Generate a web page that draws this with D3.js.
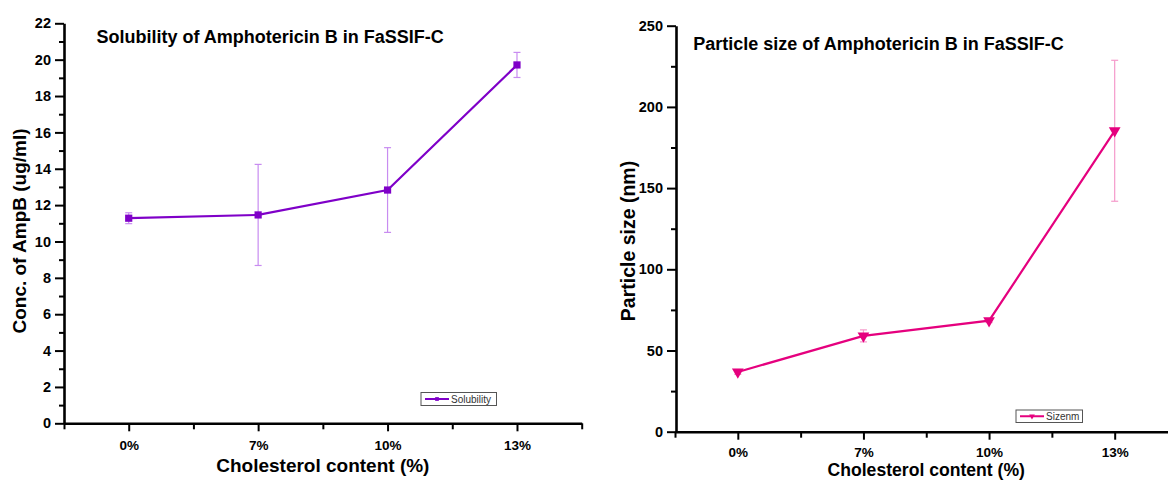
<!DOCTYPE html>
<html>
<head>
<meta charset="utf-8">
<script src="https://cdn.jsdelivr.net/npm/d3@7"></script>
<style>
  html, body { margin: 0; padding: 0; background: #ffffff; }
  svg { display: block; }
  text { font-family: "Liberation Sans", Arial, sans-serif; }
</style>
</head>
<body>
<svg id="chart" width="1168" height="480"></svg>
<script>
// ---------- data ----------
const categories = ["0%", "7%", "10%", "13%"];

const solubility    = [11.28, 11.46, 12.83, 19.71];
const solubilityErr = [0.30, 2.78, 2.33, 0.69];

const particleSize    = [36.8, 59.0, 68.4, 185.3];
const particleSizeErr = [1.5, 3.7, 1.2, 43.4];

const solubilityMajorTicks = [0, 2, 4, 6, 8, 10, 12, 14, 16, 18, 20, 22];
const solubilityMinorTicks = [1, 3, 5, 7, 9, 11, 13, 15, 17, 19, 21];
const sizeMajorTicks = [0, 50, 100, 150, 200, 250];
const sizeMinorTicks = [25, 75, 125, 175, 225];

// ---------- drawing ----------
const svg = d3.select("#chart");
const FONT = '"Liberation Sans", Arial, sans-serif';

function panel(cfg) {
  const g = svg.append("g");
  const idx = categories.map((d, i) => i + 1);
  const x = d3.scaleLinear().domain([0.5, 4.5]).range(cfg.xRange);
  const y = d3.scaleLinear().domain(cfg.yDomain).range(cfg.yRange);

  // minor y ticks
  g.append("g")
    .attr("transform", `translate(${cfg.axisX},0)`)
    .call(d3.axisLeft(y).tickValues(cfg.minorY).tickSize(5).tickFormat(""))
    .call(a => a.select(".domain").remove())
    .call(a => a.selectAll("line").attr("stroke", "#000").attr("stroke-width", 2));

  // major y axis
  g.append("g")
    .attr("transform", `translate(${cfg.axisX},0)`)
    .call(d3.axisLeft(y).tickValues(cfg.majorY).tickSize(9).tickPadding(4).tickSizeOuter(0))
    .call(a => a.select(".domain").attr("stroke", "#000").attr("stroke-width", 2.6))
    .call(a => a.selectAll("line").attr("stroke", "#000").attr("stroke-width", 2))
    .call(a => a.selectAll("text")
      .attr("font-family", FONT).attr("font-weight", "bold")
      .attr("font-size", 14.5).attr("fill", "#000"));

  // minor x ticks
  g.append("g")
    .attr("transform", `translate(0,${cfg.axisY})`)
    .call(d3.axisBottom(x).tickValues([0.5, 1.5, 2.5, 3.5, 4.5]).tickSize(6).tickFormat(""))
    .call(a => a.select(".domain").remove())
    .call(a => a.selectAll("line").attr("stroke", "#000").attr("stroke-width", 2));

  // major x axis
  g.append("g")
    .attr("transform", `translate(0,${cfg.axisY})`)
    .call(d3.axisBottom(x).tickValues(idx).tickSize(8).tickPadding(cfg.xLabelPad)
      .tickSizeOuter(0).tickFormat(d => categories[d - 1]))
    .call(a => a.select(".domain").attr("stroke", "#000").attr("stroke-width", 2.6))
    .call(a => a.selectAll("line").attr("stroke", "#000").attr("stroke-width", 2))
    .call(a => a.selectAll("text")
      .attr("font-family", FONT).attr("font-weight", "bold")
      .attr("font-size", 13.5).attr("fill", "#000"));

  // error bars
  const eb = g.append("g").attr("stroke", cfg.errColor).attr("stroke-width", 1.2);
  cfg.values.forEach((v, i) => {
    const cx = x(idx[i]);
    const yt = y(v + cfg.errs[i]), yb = y(v - cfg.errs[i]);
    eb.append("line").attr("x1", cx).attr("x2", cx).attr("y1", yt).attr("y2", yb);
    eb.append("line").attr("x1", cx - 3.5).attr("x2", cx + 3.5).attr("y1", yt).attr("y2", yt);
    eb.append("line").attr("x1", cx - 3.5).attr("x2", cx + 3.5).attr("y1", yb).attr("y2", yb);
  });

  // line
  const line = d3.line().x((d, i) => x(idx[i])).y(d => y(d));
  g.append("path").datum(cfg.values)
    .attr("d", line).attr("fill", "none")
    .attr("stroke", cfg.color).attr("stroke-width", 2.2);

  // markers
  const sym = d3.symbol().type(cfg.symbol).size(cfg.symbolSize);
  g.selectAll(".mk").data(cfg.values).join("path")
    .attr("d", sym)
    .attr("transform", (d, i) => `translate(${x(idx[i])},${y(d)})${cfg.symbolRotate ? " rotate(180)" : ""}`)
    .attr("fill", cfg.color);

  // title
  g.append("text").attr("x", cfg.titleX).attr("y", cfg.titleY)
    .attr("font-family", FONT).attr("font-weight", "bold").attr("font-size", 18)
    .attr("fill", "#000").text(cfg.title);

  // y title
  g.append("text")
    .attr("transform", `translate(${cfg.yTitleX},${cfg.yTitleY}) rotate(-90)`)
    .attr("text-anchor", "middle")
    .attr("font-family", FONT).attr("font-weight", "bold").attr("font-size", cfg.yTitleSize)
    .attr("fill", "#000").text(cfg.yTitle);

  // x title
  g.append("text")
    .attr("x", (cfg.xRange[0] + cfg.xRange[1]) / 2).attr("y", cfg.xTitleY)
    .attr("text-anchor", "middle")
    .attr("font-family", FONT).attr("font-weight", "bold").attr("font-size", cfg.xTitleSize)
    .attr("fill", "#000").text("Cholesterol content (%)");

  // legend
  const L = cfg.legend;
  const lg = g.append("g");
  lg.append("rect").attr("x", L.x).attr("y", L.y).attr("width", L.w).attr("height", L.h)
    .attr("fill", "#fff").attr("stroke", "#555").attr("stroke-width", 1);
  const ly = L.y + L.h / 2;
  lg.append("line").attr("x1", L.x + 4).attr("x2", L.x + 28).attr("y1", ly).attr("y2", ly)
    .attr("stroke", cfg.color).attr("stroke-width", 2);
  lg.append("path").attr("d", d3.symbol().type(cfg.symbol).size(14)())
    .attr("transform", `translate(${L.x + 16},${ly})${cfg.symbolRotate ? " rotate(180)" : ""}`)
    .attr("fill", cfg.color);
  lg.append("text").attr("x", L.x + 30).attr("y", ly + 3.6)
    .attr("font-family", FONT).attr("font-size", 10).attr("fill", "#333").text(cfg.seriesName);
}

panel({
  values: solubility, errs: solubilityErr,
  xRange: [64, 581.7], yDomain: [0, 22], yRange: [423.3, 23.3],
  axisX: 64, axisY: 423.3, xLabelPad: 9.5,
  majorY: solubilityMajorTicks, minorY: solubilityMinorTicks,
  color: "#7f00c8", errColor: "#c88cf0",
  symbol: d3.symbolSquare, symbolSize: 52, symbolRotate: false,
  title: "Solubility of Amphotericin B in FaSSIF-C", titleX: 96.5, titleY: 42.5,
  yTitle: "Conc. of AmpB (ug/ml)", yTitleX: 26, yTitleY: 231, yTitleSize: 19,
  xTitleY: 472, xTitleSize: 19,
  seriesName: "Solubility",
  legend: { x: 421, y: 392.5, w: 75.5, h: 13 }
});

panel({
  values: particleSize, errs: particleSizeErr,
  xRange: [675, 1177.5], yDomain: [0, 250], yRange: [431.7, 25.7],
  axisX: 676, axisY: 431.7, xLabelPad: 8,
  majorY: sizeMajorTicks, minorY: sizeMinorTicks,
  color: "#e5007e", errColor: "#f59acb",
  symbol: d3.symbolTriangle, symbolSize: 60, symbolRotate: true,
  title: "Particle size of Amphotericin B in FaSSIF-C", titleX: 693.3, titleY: 49.5,
  yTitle: "Particle size (nm)", yTitleX: 635, yTitleY: 241, yTitleSize: 19.5,
  xTitleY: 475.5, xTitleSize: 17.6,
  seriesName: "Sizenm",
  legend: { x: 1016, y: 410, w: 66.5, h: 12.5 }
});
</script>
</body>
</html>
